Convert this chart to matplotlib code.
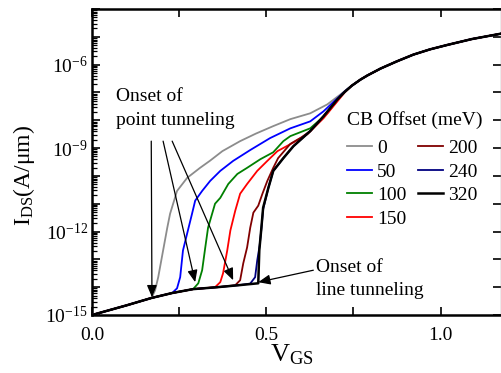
import numpy as np
import matplotlib
matplotlib.use("Agg")
import matplotlib.pyplot as plt
from matplotlib.ticker import FixedLocator, FixedFormatter, LogLocator, NullFormatter

# Data (V_GS in volts, log10 of I_DS in A/um)
offsets = ["0", "50", "100", "150", "200", "240", "320"]
colors = ["#8c8c8c", "#0000ff", "#008000", "#ff0000", "#800000", "#000080", "#000000"]

# shared leakage floor before any tunneling starts
v_base = [0.0, 0.10, 0.17, 0.23, 0.29, 0.36, 0.42, 0.48]
logi_base = [-15.0, -14.65, -14.39, -14.21, -14.07, -14.0, -13.93, -13.86]

# shared on-state branch where all curves merge
v_top = [0.745, 0.77, 0.79, 0.828, 0.875, 0.922, 0.97, 1.02, 1.09, 1.172]
logi_top = [-6.76, -6.54, -6.39, -6.14, -5.88, -5.64, -5.45, -5.29, -5.08, -4.89]

v_0 = [0.172, 0.181, 0.190, 0.204, 0.216, 0.224, 0.244, 0.273, 0.310, 0.339, 0.374, 0.425, 0.470, 0.520, 0.569, 0.626, 0.675, 0.713, 0.728]
logi_0 = [-14.36, -14.11, -13.64, -12.68, -11.86, -11.36, -10.54, -10.07, -9.71, -9.45, -9.11, -8.75, -8.48, -8.21, -7.96, -7.75, -7.43, -7.07, -6.92]

v_50 = [0.230, 0.244, 0.253, 0.261, 0.273, 0.287, 0.296, 0.316, 0.339, 0.368, 0.405, 0.454, 0.511, 0.569, 0.626, 0.664, 0.704, 0.728]
logi_50 = [-14.21, -14.04, -13.64, -12.68, -12.07, -11.36, -10.89, -10.54, -10.18, -9.82, -9.46, -9.07, -8.64, -8.29, -8.04, -7.68, -7.21, -6.93]

v_100 = [0.290, 0.305, 0.316, 0.325, 0.333, 0.353, 0.368, 0.391, 0.417, 0.445, 0.483, 0.520, 0.549, 0.569, 0.626, 0.675, 0.713, 0.728]
logi_100 = [-14.07, -13.86, -13.39, -12.57, -11.86, -11.0, -10.79, -10.29, -9.93, -9.71, -9.40, -9.15, -8.75, -8.57, -8.29, -7.75, -7.14, -6.95]

v_150 = [0.353, 0.368, 0.376, 0.388, 0.397, 0.411, 0.425, 0.445, 0.474, 0.503, 0.532, 0.569, 0.618, 0.664, 0.704, 0.725]
logi_150 = [-14.0, -13.82, -13.5, -12.68, -11.96, -11.25, -10.64, -10.29, -9.82, -9.46, -9.11, -8.86, -8.5, -7.93, -7.32, -7.0]

v_200 = [0.411, 0.425, 0.434, 0.445, 0.454, 0.463, 0.477, 0.489, 0.503, 0.520, 0.534, 0.569, 0.600, 0.626, 0.664, 0.704, 0.725]
logi_200 = [-13.93, -13.75, -13.14, -12.57, -11.86, -11.32, -11.07, -10.64, -10.18, -9.71, -9.36, -8.85, -8.62, -8.39, -7.86, -7.25, -6.98]

v_240 = [0.454, 0.468, 0.474, 0.481, 0.486, 0.491, 0.506, 0.520, 0.549, 0.578, 0.626, 0.664, 0.704, 0.725]
logi_240 = [-13.87, -13.64, -13.04, -12.5, -11.9, -11.2, -10.43, -9.82, -9.36, -8.93, -8.39, -7.86, -7.25, -6.98]

v_320 = [0.477, 0.480, 0.486, 0.491, 0.506, 0.520, 0.549, 0.578, 0.626, 0.664, 0.704, 0.725]
logi_320 = [-13.86, -12.68, -11.86, -11.14, -10.43, -9.82, -9.36, -8.93, -8.39, -7.86, -7.25, -6.98]

curves_v = [v_0, v_50, v_100, v_150, v_200, v_240, v_320]
curves_logi = [logi_0, logi_50, logi_100, logi_150, logi_200, logi_240, logi_320]

x_ticks = [0.0, 0.25, 0.5, 0.75, 1.0]
x_ticklabels = ["0.0", "", "0.5", "", "1.0"]
y_decades = list(range(-15, -3))
y_labelled = [-15, -12, -9, -6]

plt.rcParams["font.family"] = "Liberation Serif"
plt.rcParams["mathtext.fontset"] = "custom"
plt.rcParams["mathtext.rm"] = "Liberation Serif"
plt.rcParams["mathtext.it"] = "Liberation Serif:italic"
plt.rcParams["mathtext.bf"] = "Liberation Serif:bold"

fig = plt.figure(figsize=(5.01, 3.73), dpi=100)
ax = fig.add_axes([92 / 501, 58 / 373, 408.5 / 501, 306 / 373])

for label, color, v, li in zip(offsets, colors, curves_v, curves_logi):
    head_v = [b for b in v_base if b < v[0]]
    head_l = [l for b, l in zip(v_base, logi_base) if b < v[0]]
    xs = np.array(head_v + v + v_top)
    ys = 10.0 ** np.array(head_l + li + logi_top)
    lw = 1.8 if label == "320" else 1.3
    ax.plot(xs, ys, color=color, lw=lw, label=label, zorder=3)

ax.set_yscale("log")
ax.set_xlim(0, 1.172)
ax.set_ylim(1e-15, 1e-4)

ax.xaxis.set_major_locator(FixedLocator(x_ticks))
ax.xaxis.set_major_formatter(FixedFormatter(x_ticklabels))
ax.yaxis.set_major_locator(FixedLocator([10.0 ** d for d in y_decades]))
ax.yaxis.set_major_formatter(FixedFormatter(
    [r"$10^{%d}$" % d if d in y_labelled else "" for d in y_decades]))
ax.yaxis.set_minor_locator(LogLocator(base=10, subs=np.arange(2, 10), numticks=30))
ax.yaxis.set_minor_formatter(NullFormatter())

ax.tick_params(which="major", direction="in", length=6, width=1.2,
               top=True, right=True, labelsize=14)
ax.tick_params(axis="x", which="major", pad=9)
ax.tick_params(axis="y", which="major", pad=3)
ax.tick_params(which="minor", direction="in", length=3.5, width=0.9,
               left=True, right=False, top=False)

for side in ["left", "bottom", "top"]:
    ax.spines[side].set_linewidth(1.8)
ax.spines["right"].set_linewidth(1.0)
ax.spines["right"].set_color("#999999")

fig.text(24 / 501, 1 - 175 / 373, r"I$_{\rm DS}$(A/μm)", rotation=90,
         ha="center", va="center", fontsize=17)
fig.text(292 / 501, 1 - 355 / 373, r"V$_{\rm GS}$", ha="center", va="center",
         fontsize=19)

arrow = dict(arrowstyle="-|>,head_length=0.6,head_width=0.25", color="black",
             lw=0.9, mutation_scale=12, shrinkA=0, shrinkB=0)
ax.text(0.069, 10 ** -7.57, "Onset of\npoint tunneling", ha="left", va="center",
        fontsize=14, linespacing=1.5)
ax.annotate("", xy=(0.172, 10 ** -14.36), xytext=(0.170, 10 ** -8.75), arrowprops=arrow)
ax.annotate("", xy=(0.296, 10 ** -13.82), xytext=(0.204, 10 ** -8.75), arrowprops=arrow)
ax.annotate("", xy=(0.405, 10 ** -13.75), xytext=(0.230, 10 ** -8.75), arrowprops=arrow)

ax.text(0.644, 10 ** -13.70, "Onset of\nline tunneling", ha="left", va="center",
        fontsize=14, linespacing=1.5)
ax.annotate("", xy=(0.477, 10 ** -13.82), xytext=(0.635, 10 ** -13.39), arrowprops=arrow)

leg = ax.legend(ncol=2, title="CB Offset (meV)", frameon=False, fontsize=14,
                title_fontsize=14, loc="upper left", alignment="left",
                bbox_to_anchor=(347 / 501, 1 - 111 / 373),
                bbox_transform=fig.transFigure, borderpad=0, borderaxespad=0,
                handlelength=1.3, handletextpad=0.25, columnspacing=0.6,
                labelspacing=0.31)
# a little more room between the title and the entries
leg._legend_box.sep = 7.5

fig.savefig("out.png", dpi=100)
